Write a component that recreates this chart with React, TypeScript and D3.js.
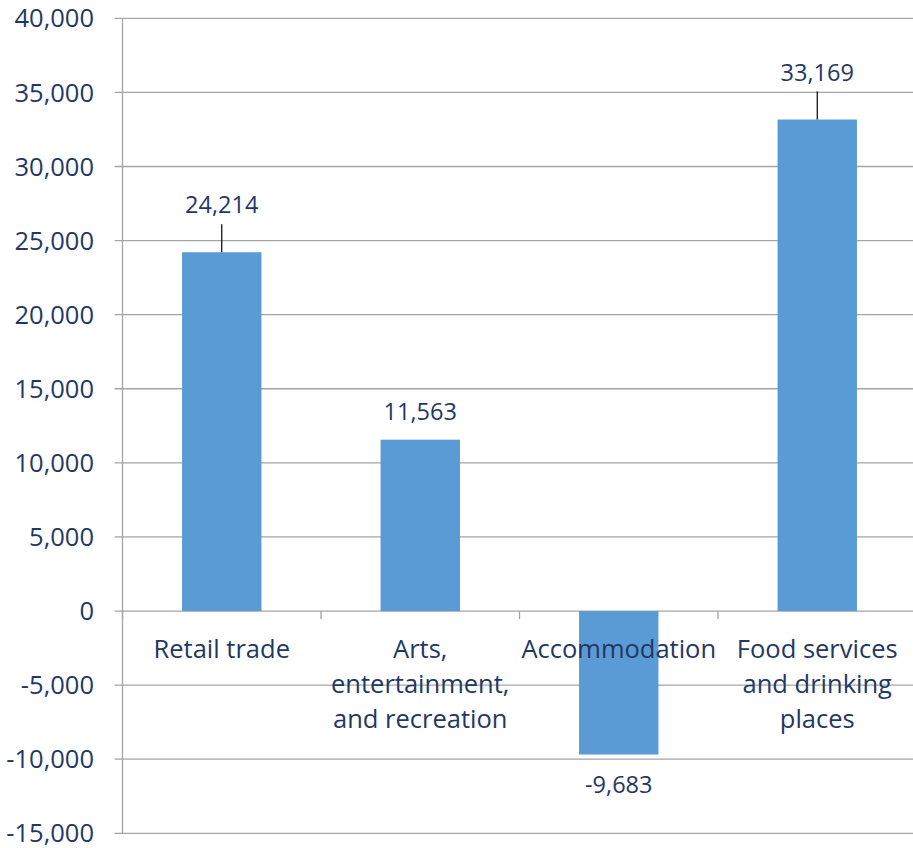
import React from "react";
import * as d3 from "d3";

const categories: string[][] = [
  ["Retail trade"],
  ["Arts,", "entertainment,", "and recreation"],
  ["Accommodation"],
  ["Food services", "and drinking", "places"],
];
const values: number[] = [24214, 11563, -9683, 33169];
const leaderLabels: boolean[] = [true, false, false, true];
const yTicks: number[] = [-15000, -10000, -5000, 0, 5000, 10000, 15000, 20000, 25000, 30000, 35000, 40000];

const W = 913;
const H = 848;
const FONT = "'Open Sans', sans-serif";
const TEXT = "#1F3864";
const GRID = "#A5A5A5";
const BAR = "#5B9BD5";

export default function App() {
  React.useEffect(() => {
    document.body.style.margin = "0";
  }, []);
  const left = 122.5;
  const right = 916.5;
  const y = d3.scaleLinear().domain([-15000, 40000]).range([833.3, 18.3]);
  const x = d3
    .scaleBand<number>()
    .domain(values.map((_, i) => i))
    .range([left, right])
    .paddingInner(0.6)
    .paddingOuter(0.3);
  const band = (right - left) / values.length;
  const fmt = d3.format(",");
  const y0 = y(0);

  return (
    <svg width={W} height={H} style={{ display: "block" }}>
      <rect width={W} height={H} fill="#fff" />
      {yTicks.map((t) => (
        <g key={t}>
          <line x1={left - 8} x2={right} y1={y(t)} y2={y(t)} stroke={GRID} strokeWidth={1.3} />
          <text
            x={94}
            y={y(t)}
            dy="0.36em"
            textAnchor="end"
            fontFamily={FONT}
            fontSize={25.5}
            fill={TEXT}
          >
            {t < 0 ? "-" + fmt(-t) : fmt(t)}
          </text>
        </g>
      ))}
      <line x1={left} x2={left} y1={y(40000)} y2={y(-15000)} stroke={GRID} strokeWidth={1.3} />
      {d3.range(values.length + 1).map((i) => (
        <line
          key={"ct" + i}
          x1={left + i * band}
          x2={left + i * band}
          y1={y0}
          y2={y0 + 8}
          stroke={GRID}
          strokeWidth={1.3}
        />
      ))}
      {values.map((v, i) => {
        const bx = x(i)!;
        const bw = x.bandwidth();
        const top = y(Math.max(v, 0));
        const bot = y(Math.min(v, 0));
        return <rect key={"b" + i} x={bx} y={top} width={bw} height={bot - top} fill={BAR} />;
      })}
      {categories.map((lines, i) => {
        const cx = left + (i + 0.5) * band;
        return (
          <text key={"c" + i} textAnchor="middle" fontFamily={FONT} fontSize={25.5} fill={TEXT}>
            {lines.map((l, j) => (
              <tspan key={j} x={cx} y={658.3 + j * 35}>
                {l}
              </tspan>
            ))}
          </text>
        );
      })}
      {values.map((v, i) => {
        const cx = x(i)! + x.bandwidth() / 2;
        const label = v < 0 ? "-" + fmt(-v) : fmt(v);
        if (v < 0) {
          return (
            <text key={"l" + i} x={cx} y={y(v) + 38} textAnchor="middle" fontFamily={FONT} fontSize={23.5} fill={TEXT}>
              {label}
            </text>
          );
        }
        const top = y(v);
        if (leaderLabels[i]) {
          return (
            <g key={"l" + i}>
              <line x1={cx} x2={cx} y1={top} y2={top - 28} stroke="#000" strokeWidth={1.2} />
              <text x={cx} y={top - 39} textAnchor="middle" fontFamily={FONT} fontSize={23.5} fill={TEXT}>
                {label}
              </text>
            </g>
          );
        }
        return (
          <text key={"l" + i} x={cx} y={top - 19.5} textAnchor="middle" fontFamily={FONT} fontSize={23.5} fill={TEXT}>
            {label}
          </text>
        );
      })}
    </svg>
  );
}
